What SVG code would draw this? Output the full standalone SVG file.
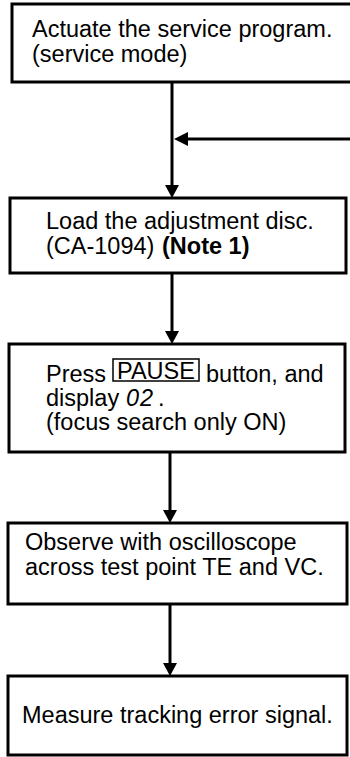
<svg xmlns="http://www.w3.org/2000/svg" width="350" height="757" viewBox="0 0 350 757">
<defs>
<style>
.box{fill:#fff;stroke:#000;stroke-width:3}
.t{font-family:"Liberation Sans",Arial,sans-serif;font-size:23.5px;fill:#000}
.b{font-weight:bold}
.ln{stroke:#000;stroke-width:3;fill:none}
.ah{fill:#000}
</style>
</defs>
<rect width="350" height="757" fill="#fff"/>
<g id="connectors">
<line class="ln" x1="172" y1="82" x2="172" y2="186"/>
<polygon class="ah" points="165,185 179,185 172,198"/>
<line class="ln" x1="352" y1="139" x2="186" y2="139"/>
<polygon class="ah" points="188,132 188,146 174,139"/>
<line class="ln" x1="172" y1="273" x2="172" y2="332"/>
<polygon class="ah" points="165,331 179,331 172,344"/>
<line class="ln" x1="170" y1="452" x2="170" y2="511"/>
<polygon class="ah" points="163,510 177,510 170,523"/>
<line class="ln" x1="170" y1="604" x2="170" y2="664"/>
<polygon class="ah" points="163,663 177,663 170,676"/>
</g>
<g id="n1">
<rect class="box" x="12" y="4" width="345" height="78"/>
<text class="t" x="32" y="37">Actuate the service program.</text>
<text class="t" x="32" y="62">(service mode)</text>
</g>
<g id="n2">
<rect class="box" x="10" y="198" width="336" height="75"/>
<text class="t" x="46" y="229">Load the adjustment disc.</text>
<text class="t" x="46" y="254">(CA-1094)</text>
<text class="t b" x="162" y="254">(Note 1)</text>
</g>
<g id="n3">
<rect class="box" x="9" y="344" width="336" height="108"/>
<text class="t" x="46" y="382">Press</text>
<rect x="113" y="359" width="86" height="22" fill="none" stroke="#000" stroke-width="1.5"/>
<text class="t" x="117" y="379">PAUSE</text>
<text class="t" x="206" y="382">button, and</text>
<text class="t" x="46" y="406">display</text>
<text class="t" x="126" y="406" font-style="italic" font-size="24" letter-spacing="1">02</text>
<text class="t" x="158" y="406">.</text>
<text class="t" x="46" y="430">(focus search only ON)</text>
</g>
<g id="n4">
<rect class="box" x="8" y="523" width="339" height="81"/>
<text class="t" x="25" y="550">Observe with oscilloscope</text>
<text class="t" x="25" y="575">across test point TE and VC.</text>
</g>
<g id="n5">
<rect class="box" x="8" y="676" width="339" height="79"/>
<text class="t" x="22" y="723">Measure tracking error signal.</text>
</g>
</svg>
